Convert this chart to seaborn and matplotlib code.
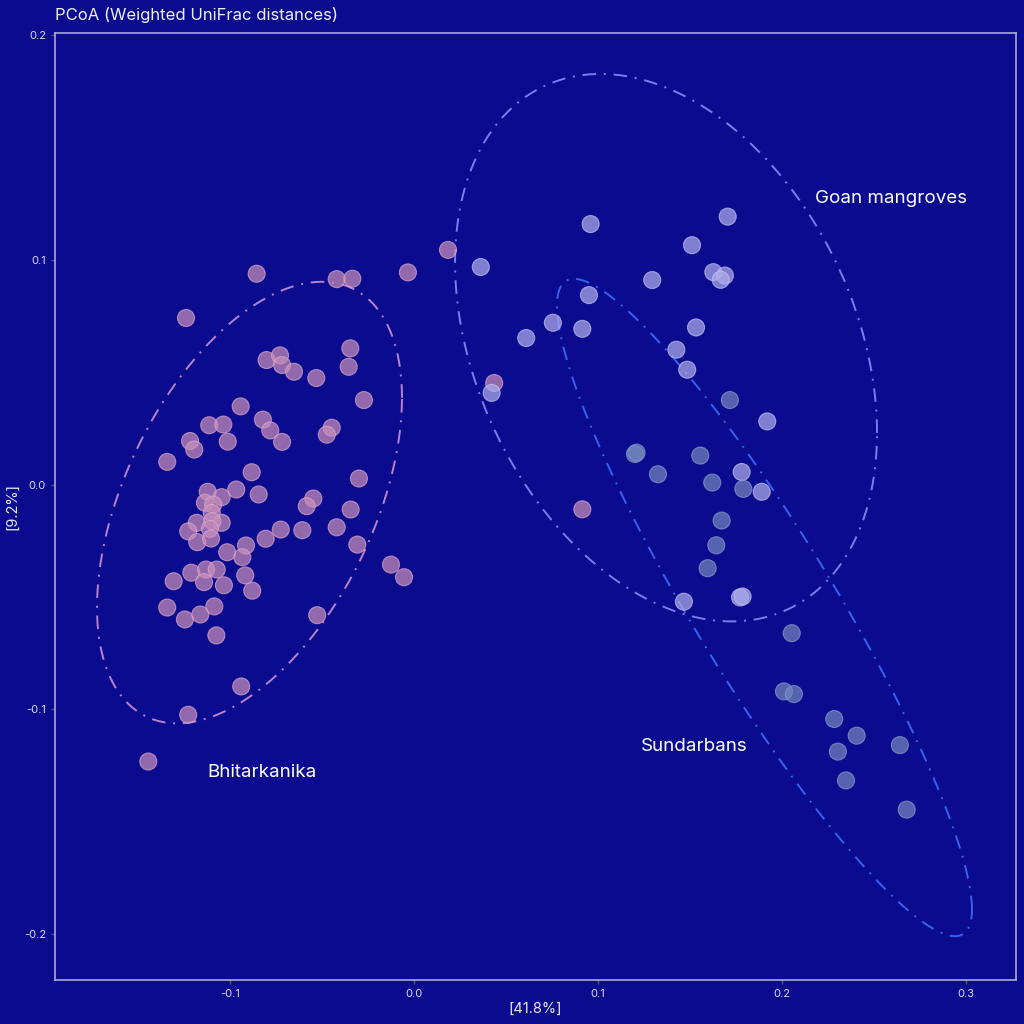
import numpy as np
import pandas as pd
import matplotlib
matplotlib.use("Agg")
import matplotlib.pyplot as plt
import seaborn as sns

# ---- data ----
bhit_x = [-0.0855, -0.1239, -0.0420, -0.0335, -0.0033, 0.0185, -0.0801, -0.0728, -0.0717, -0.0652,
          -0.0531, -0.0346, -0.0355, -0.0272, -0.0942, -0.1113, -0.1036, -0.1012, -0.1217, -0.1194,
          -0.1341, -0.0821, -0.0781, -0.0717, -0.0447, -0.0474, -0.0882, -0.0299, -0.1121, -0.1045,
          -0.0966, -0.0844, -0.1136, -0.1091, -0.1099, -0.1045, -0.1096, -0.1181, -0.1227, -0.1178,
          -0.1109, -0.1103, -0.0547, -0.0583, -0.0344, -0.0420, -0.0308, -0.0724, -0.0806, -0.0607,
          -0.0913, -0.1015, -0.0933, -0.1210, -0.1130, -0.1072, -0.1141, -0.1306, -0.1033, -0.0917,
          -0.0879, -0.0125, -0.0054, -0.1341, -0.1245, -0.1161, -0.1085, -0.1074, -0.0526, -0.0939,
          -0.1227, -0.1444, 0.0436, 0.0915]
bhit_y = [0.0938, 0.0741, 0.0914, 0.0916, 0.0944, 0.1044, 0.0554, 0.0575, 0.0532, 0.0502,
          0.0474, 0.0606, 0.0524, 0.0376, 0.0348, 0.0264, 0.0267, 0.0191, 0.0194, 0.0156,
          0.0101, 0.0289, 0.0241, 0.0190, 0.0253, 0.0222, 0.0055, 0.0027, -0.0032, -0.0056,
          -0.0022, -0.0044, -0.0081, -0.0089, -0.0126, -0.0170, -0.0163, -0.0170, -0.0208, -0.0256,
          -0.0197, -0.0240, -0.0062, -0.0096, -0.0111, -0.0190, -0.0267, -0.0200, -0.0241, -0.0203,
          -0.0271, -0.0301, -0.0323, -0.0392, -0.0378, -0.0378, -0.0434, -0.0430, -0.0448, -0.0404,
          -0.0472, -0.0356, -0.0412, -0.0547, -0.0600, -0.0578, -0.0542, -0.0671, -0.0581, -0.0898,
          -0.1024, -0.1232, 0.0452, -0.0110]

goan_x = [0.0960, 0.1705, 0.1511, 0.0363, 0.1295, 0.1627, 0.1690, 0.1667, 0.0951, 0.0755,
          0.0915, 0.0610, 0.1533, 0.1426, 0.1485, 0.0422, 0.1920, 0.1781, 0.1890, 0.1467,
          0.1772, 0.1786]
goan_y = [0.1159, 0.1192, 0.1065, 0.0968, 0.0910, 0.0945, 0.0930, 0.0911, 0.0843, 0.0720,
          0.0693, 0.0652, 0.0699, 0.0600, 0.0511, 0.0408, 0.0281, 0.0056, -0.0032, -0.0521,
          -0.0502, -0.0498]

sund_x = [0.1717, 0.1201, 0.1210, 0.1556, 0.1326, 0.1621, 0.1790, 0.1672, 0.1643, 0.1596,
          0.2053, 0.2011, 0.2065, 0.2284, 0.2406, 0.2304, 0.2641, 0.2348, 0.2678]
sund_y = [0.0376, 0.0136, 0.0142, 0.0129, 0.0046, 0.0009, -0.0019, -0.0160, -0.0270, -0.0372,
          -0.0661, -0.0920, -0.0932, -0.1043, -0.1117, -0.1188, -0.1159, -0.1316, -0.1446]

groups = ["Bhitarkanika", "Goan mangroves", "Sundarbans"]

# ellipse summaries (centre and shape matrix, data units)
ell_cx = [-0.0894, 0.1370, 0.1905]
ell_cy = [-0.0080, 0.0609, -0.0547]
ell_sxx = [0.006869, 0.013150, 0.012718]
ell_syy = [0.009648, 0.014830, 0.021381]
ell_sxy = [0.003865, -0.004348, -0.015139]

label_x = [-0.0825, 0.2592, 0.1520]
label_y = [-0.1280, 0.1271, -0.1165]

x_ticks = [-0.1, 0.0, 0.1, 0.2, 0.3]
y_ticks = [-0.2, -0.1, 0.0, 0.1, 0.2]

# ---- styling ----
BG = "#0a0b8e"
point_colors = {"Bhitarkanika": "#c98fbb", "Goan mangroves": "#aeacec", "Sundarbans": "#7385bd"}
edge_colors = {"Bhitarkanika": "#d9a6c9", "Goan mangroves": "#c2c0f2", "Sundarbans": "#8a9acb"}
ell_colors = ["#b982cf", "#7c7cf2", "#3563f0"]

df = pd.DataFrame({
    "PC1": bhit_x + goan_x + sund_x,
    "PC2": bhit_y + goan_y + sund_y,
    "group": [groups[0]] * len(bhit_x) + [groups[1]] * len(goan_x) + [groups[2]] * len(sund_x),
})

sns.set_theme(style="dark")
plt.rcParams["font.family"] = ["Inter", "DejaVu Sans"]

fig = plt.figure(figsize=(10.24, 10.24), dpi=100, facecolor=BG)
ax = fig.add_axes([55 / 1024, 1 - 980 / 1024, (1016 - 55) / 1024, (980 - 33) / 1024])
ax.set_facecolor(BG)

# ellipses
t = np.linspace(0, 2 * np.pi, 400)
for i in range(3):
    S = np.array([[ell_sxx[i], ell_sxy[i]], [ell_sxy[i], ell_syy[i]]])
    L = np.linalg.cholesky(S)
    pts = L @ np.vstack([np.cos(t), np.sin(t)])
    ax.plot(ell_cx[i] + pts[0], ell_cy[i] + pts[1], color=ell_colors[i], lw=1.4,
            linestyle=(0, (7, 4, 1, 4)), zorder=1)

sns.scatterplot(data=df, x="PC1", y="PC2", hue="group", palette=point_colors,
                s=150, alpha=0.72, linewidth=0.8,
                edgecolor=[edge_colors[g] for g in df["group"]],
                legend=False, ax=ax, zorder=2)

for i, g in enumerate(groups):
    ax.text(label_x[i], label_y[i], g, color="white", fontsize=13.5, ha="center", va="center")

ax.set_xlim(-0.1951, 0.3272)
ax.set_ylim(-0.2204, 0.2009)
ax.set_xticks(x_ticks)
ax.set_yticks(y_ticks)
ax.set_xticklabels([f"{v:.1f}" for v in x_ticks])
ax.set_yticklabels([f"{v:.1f}" for v in y_ticks])
ax.tick_params(axis="both", colors="#555566", labelcolor="#dcdcf0", labelsize=8,
               length=3, width=1, direction="out", bottom=True, left=True)
ax.grid(False)
for sp in ax.spines.values():
    sp.set_visible(True)
    sp.set_color("#a9a9d6")
    sp.set_linewidth(1.2)

ax.set_xlabel("[41.8%]", color="#e8e8f8", fontsize=10.5, labelpad=2)
ax.set_ylabel("[9.2%]", color="#e8e8f8", fontsize=10.5, labelpad=3)
fig.text(55 / 1024, 1 - 15 / 1024, "PCoA (Weighted UniFrac distances)", color="#f0f0fa",
         fontsize=12, ha="left", va="center")

fig.savefig("out.png", dpi=100, facecolor=BG)
